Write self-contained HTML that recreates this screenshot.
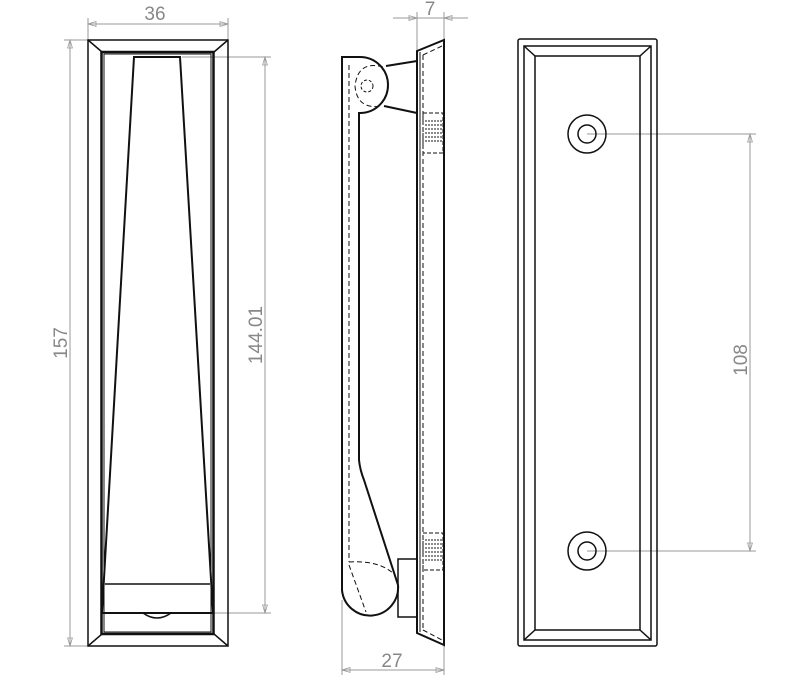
<!DOCTYPE html>
<html><head><meta charset="utf-8"><style>
html,body{margin:0;padding:0;background:#fff;}
svg{display:block;}
text{font-family:"Liberation Sans",sans-serif;fill:#888;font-size:19px;}
</style></head><body>
<svg width="800" height="676" viewBox="0 0 800 676" xmlns="http://www.w3.org/2000/svg">
<defs>
<marker id="a" viewBox="0 0 10 10" refX="10" refY="5" markerWidth="10" markerHeight="8" orient="auto-start-reverse" markerUnits="userSpaceOnUse"><path d="M0,2 L10,5 L0,8 z" fill="none" stroke="#999" stroke-width="1"/></marker>
</defs>
<g stroke="#999" stroke-width="1" fill="none">
<line x1="88" y1="18" x2="88" y2="40"/><line x1="228" y1="18" x2="228" y2="40"/>
<line x1="88" y1="24" x2="228" y2="24" marker-start="url(#a)" marker-end="url(#a)"/>
<line x1="64" y1="40" x2="88" y2="40"/><line x1="64" y1="646" x2="88" y2="646"/>
<line x1="70" y1="40" x2="70" y2="646" marker-start="url(#a)" marker-end="url(#a)"/>
<line x1="182" y1="57" x2="271" y2="57"/><line x1="213" y1="613" x2="271" y2="613"/>
<line x1="265" y1="57" x2="265" y2="613" marker-start="url(#a)" marker-end="url(#a)"/>
<line x1="417" y1="12" x2="417" y2="50"/><line x1="444" y1="12" x2="444" y2="40"/>
<line x1="393" y1="18" x2="417" y2="18" marker-end="url(#a)"/>
<line x1="468" y1="18" x2="444" y2="18" marker-end="url(#a)"/>
<line x1="417" y1="18" x2="444" y2="18"/>
<line x1="342" y1="600" x2="342" y2="675"/><line x1="444" y1="645" x2="444" y2="675"/>
<line x1="342" y1="670" x2="444" y2="670" marker-start="url(#a)" marker-end="url(#a)"/>
<line x1="587" y1="134" x2="756" y2="134"/><line x1="587" y1="551" x2="756" y2="551"/>
<line x1="750" y1="134" x2="750" y2="551" marker-start="url(#a)" marker-end="url(#a)"/>
</g>
<text x="155" y="20" text-anchor="middle">36</text>
<text x="430" y="15" text-anchor="middle">7</text>
<text x="392" y="667" text-anchor="middle">27</text>
<text transform="translate(67,343) rotate(-90)" text-anchor="middle">157</text>
<text transform="translate(262,335) rotate(-90)" text-anchor="middle">144.01</text>
<text transform="translate(747,360) rotate(-90)" text-anchor="middle">108</text>

<g stroke="#111" fill="none" stroke-width="1.5">
<rect x="88" y="40" width="140" height="606"/>
<rect x="101.5" y="52" width="112" height="582" stroke-width="2.5"/>
<rect x="104" y="54" width="107" height="578" stroke-width="1"/>
<line x1="88" y1="40" x2="102" y2="52"/><line x1="228" y1="40" x2="214" y2="52"/>
<line x1="88" y1="646" x2="102" y2="634"/><line x1="228" y1="646" x2="214" y2="634"/>
<path d="M134,57 L180,57 L213,613 L102,613 Z" stroke-width="2"/>
<line x1="105" y1="584" x2="210" y2="584"/>
<path d="M143,613 Q157,623 171,613" stroke-width="1.5"/>
</g>

<g stroke="#111" fill="none" stroke-width="2">
<path d="M417,51 L444,40 L444,645 L417,633 Z"/>
<line x1="420" y1="52" x2="420" y2="632" stroke-width="1"/>
<line x1="423" y1="55" x2="423" y2="630" stroke-width="1" stroke-dasharray="5,3"/>
<line x1="423" y1="55" x2="442" y2="46" stroke-width="1" stroke-dasharray="5,3"/>
<line x1="423" y1="630" x2="442" y2="640" stroke-width="1" stroke-dasharray="5,3"/>
<path d="M342,57 L360,57 A28,28 0 0 1 360,113 L359,113 L359,460 Q360,470 364,480 L398,585 A28,28 0 0 1 342,590 Z"/>
<line x1="386" y1="66" x2="417" y2="61"/>
<line x1="384" y1="106" x2="417" y2="113"/>
<circle cx="367" cy="86" r="6" stroke-width="1" stroke-dasharray="3,2"/>
<path d="M383,67 Q358,60 355,86 Q357,110 382,106" stroke-width="1" stroke-dasharray="5,3"/>
<path d="M349,65 L349,562" stroke-width="1" stroke-dasharray="5,3"/>
<path d="M349,562 Q380,560 395,575" stroke-width="1" stroke-dasharray="5,3"/>
<path d="M349,565 L366,612" stroke-width="1" stroke-dasharray="5,3"/>
<rect x="398" y="559" width="19" height="58" stroke-width="1.5"/>
<rect x="423" y="113" width="20" height="40" stroke-width="1" stroke-dasharray="4,2"/>
<rect x="423" y="533" width="20" height="37" stroke-width="1" stroke-dasharray="4,2"/>
</g>
<g fill="none" stroke="#444" stroke-width="1.2" stroke-dasharray="2,1">
<line x1="425" y1="121" x2="442" y2="121"/><line x1="425" y1="125" x2="442" y2="125"/><line x1="425" y1="129" x2="442" y2="129"/><line x1="425" y1="133" x2="442" y2="133"/><line x1="425" y1="137" x2="442" y2="137"/><line x1="425" y1="141" x2="442" y2="141"/>
<line x1="425" y1="540" x2="442" y2="540"/><line x1="425" y1="544" x2="442" y2="544"/><line x1="425" y1="548" x2="442" y2="548"/><line x1="425" y1="552" x2="442" y2="552"/><line x1="425" y1="556" x2="442" y2="556"/><line x1="425" y1="560" x2="442" y2="560"/>
</g>

<g stroke="#111" fill="none" stroke-width="1.5">
<rect x="518" y="39" width="139" height="607" rx="2"/>
<rect x="524" y="46" width="127" height="594"/>
<rect x="535" y="56" width="105" height="574"/>
<line x1="524" y1="46" x2="535" y2="56"/><line x1="651" y1="46" x2="640" y2="56"/>
<line x1="524" y1="640" x2="535" y2="630"/><line x1="651" y1="640" x2="640" y2="630"/>
<circle cx="587" cy="134" r="19"/><circle cx="587" cy="134" r="9"/>
<circle cx="587" cy="551" r="19"/><circle cx="587" cy="551" r="9"/>
</g>
</svg>
</body></html>
